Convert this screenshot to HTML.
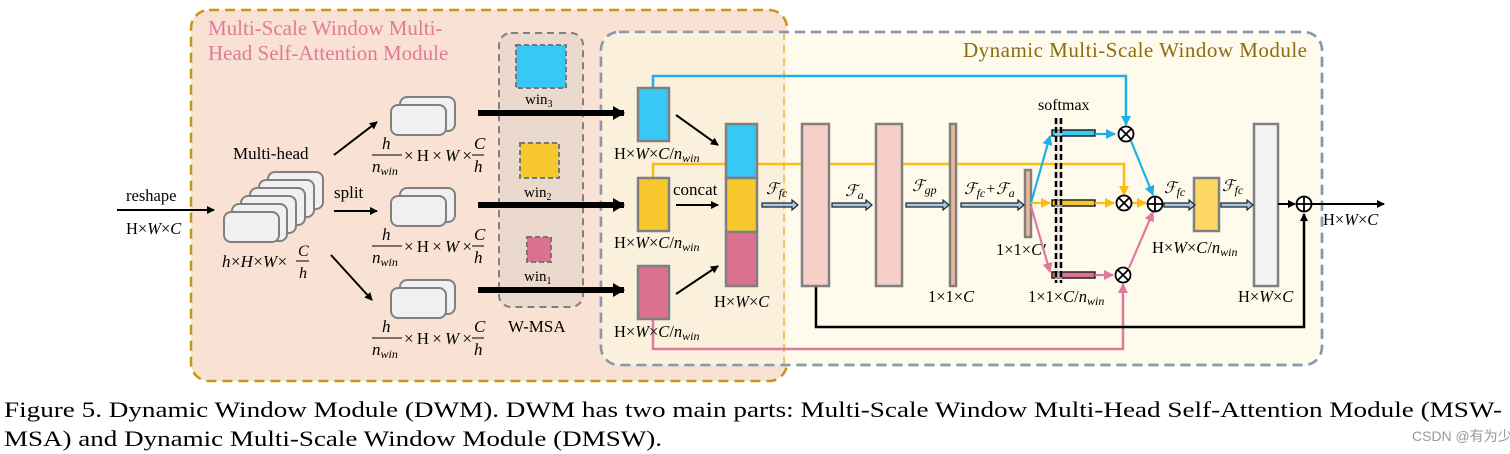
<!DOCTYPE html>
<html><head><style>
body{margin:0;background:#fff;}
svg{display:block;font-family:"Liberation Serif",serif;}
.it{font-style:italic}
</style></head><body>
<svg width="1510" height="454" viewBox="0 0 1510 454" xmlns="http://www.w3.org/2000/svg">
<defs>
<marker id="ab" markerWidth="8" markerHeight="8" refX="7" refY="4" orient="auto" markerUnits="userSpaceOnUse"><path d="M0,0 L8,4 L0,8 z" fill="#000"/></marker>
<marker id="abig" markerWidth="12" markerHeight="14" refX="11" refY="7" orient="auto" markerUnits="userSpaceOnUse"><path d="M0,0 L12,7 L0,14 z" fill="#000"/></marker>
<marker id="ablue" markerWidth="10" markerHeight="10" refX="9" refY="5" orient="auto" markerUnits="userSpaceOnUse"><path d="M0,0 L10,5 L0,10 z" fill="#1eaee8"/></marker>
<marker id="ayel" markerWidth="10" markerHeight="10" refX="9" refY="5" orient="auto" markerUnits="userSpaceOnUse"><path d="M0,0 L10,5 L0,10 z" fill="#fbbc12"/></marker>
<marker id="apink" markerWidth="10" markerHeight="10" refX="9" refY="5" orient="auto" markerUnits="userSpaceOnUse"><path d="M0,0 L10,5 L0,10 z" fill="#e07a9a"/></marker>
</defs>
<rect x="191" y="10" width="596" height="371" rx="18" fill="#f9e2d3" stroke="#c9960c" stroke-width="2.5" stroke-dasharray="10,6"/>
<rect x="601" y="32" width="721" height="333" rx="18" fill="#fefbec" stroke="#8898b2" stroke-width="2.5" stroke-dasharray="10,6"/>
<path d="M619,32 L786,32 L786,365 L619,365 Q601,365 601,347 L601,50 Q601,32 619,32z" fill="#fbf0dc"/>
<line x1="784" y1="32" x2="784" y2="365" stroke="#e8c870" stroke-width="2" stroke-dasharray="8,5"/>
<rect x="601" y="32" width="721" height="333" rx="18" fill="none" stroke="#8898b2" stroke-width="2.5" stroke-dasharray="10,6"/>
<text x="208" y="35" font-size="21" fill="#e07a9a">Multi-Scale Window Multi-</text>
<text x="208" y="60" font-size="21" fill="#e07a9a">Head Self-Attention Module</text>
<text x="963" y="57" font-size="21" fill="#8a6d10" textLength="344">Dynamic Multi-Scale Window Module</text>

<line x1="117" y1="210" x2="214" y2="210" stroke="#000" stroke-width="2" marker-end="url(#ab)"/>
<text x="126" y="201" font-size="16.5">reshape</text>
<text x="126" y="234" font-size="16.5">H×<tspan class="it">W</tspan>×<tspan class="it">C</tspan></text>

<g fill="#f0f0f0" stroke="#808080" stroke-width="2">
<rect x="268" y="172" width="55" height="37" rx="7"/>
<rect x="259" y="180" width="55" height="37" rx="7"/>
<rect x="250" y="188" width="55" height="37" rx="7"/>
<rect x="241" y="196" width="55" height="37" rx="7"/>
<rect x="232" y="204" width="55" height="37" rx="7"/>
<rect x="224" y="212" width="55" height="30" rx="7"/>
</g>
<text x="233" y="159" font-size="17">Multi-head</text>
<text x="222" y="267" font-size="17" class="it" textLength="66">h×H×W×</text>
<text x="298" y="256" font-size="16" class="it">C</text><line x1="296" y1="261" x2="309" y2="261" stroke="#000"/><text x="299" y="278" font-size="16" class="it">h</text>

<line x1="334" y1="155" x2="377" y2="122" stroke="#000" stroke-width="2" marker-end="url(#ab)"/>
<line x1="334" y1="211" x2="377" y2="211" stroke="#000" stroke-width="2" marker-end="url(#ab)"/>
<text x="334" y="198" font-size="17">split</text>
<line x1="331" y1="255" x2="372" y2="300" stroke="#000" stroke-width="2" marker-end="url(#ab)"/>

<g fill="#f0f0f0" stroke="#808080" stroke-width="2">
<rect x="400" y="97" width="55" height="34" rx="7"/><rect x="391" y="105" width="55" height="30" rx="7"/>
<rect x="400" y="188" width="55" height="34" rx="7"/><rect x="391" y="196" width="55" height="30" rx="7"/>
<rect x="400" y="280" width="55" height="34" rx="7"/><rect x="391" y="288" width="55" height="30" rx="7"/>
</g>
<g font-size="17">
<g transform="translate(372,0)"><text x="10" y="149" class="it">h</text><line x1="0" y1="155" x2="30" y2="155" stroke="#000"/><text x="0" y="172" class="it">n<tspan font-size="12" dy="3">win</tspan></text><text x="32" y="161" textLength="68">×H×<tspan class="it">W</tspan>×</text><text x="102" y="149" class="it">C</text><line x1="100" y1="155" x2="112" y2="155" stroke="#000"/><text x="102" y="172" class="it">h</text></g>
<g transform="translate(372,91)"><text x="10" y="149" class="it">h</text><line x1="0" y1="155" x2="30" y2="155" stroke="#000"/><text x="0" y="172" class="it">n<tspan font-size="12" dy="3">win</tspan></text><text x="32" y="161" textLength="68">×H×<tspan class="it">W</tspan>×</text><text x="102" y="149" class="it">C</text><line x1="100" y1="155" x2="112" y2="155" stroke="#000"/><text x="102" y="172" class="it">h</text></g>
<g transform="translate(372,183)"><text x="10" y="149" class="it">h</text><line x1="0" y1="155" x2="30" y2="155" stroke="#000"/><text x="0" y="172" class="it">n<tspan font-size="12" dy="3">win</tspan></text><text x="32" y="161" textLength="68">×H×<tspan class="it">W</tspan>×</text><text x="102" y="149" class="it">C</text><line x1="100" y1="155" x2="112" y2="155" stroke="#000"/><text x="102" y="172" class="it">h</text></g>
</g>

<rect x="499" y="33" width="84" height="274" rx="12" fill="#ead9cc" stroke="#808080" stroke-width="2" stroke-dasharray="7,5"/>
<rect x="516" y="45" width="50" height="43" fill="#38c8f5" stroke="#777" stroke-width="2" stroke-dasharray="5,3"/>
<rect x="520" y="143" width="39" height="35" fill="#f7c82e" stroke="#777" stroke-width="2" stroke-dasharray="5,3"/>
<rect x="527" y="237" width="24" height="25" fill="#dc7090" stroke="#777" stroke-width="2" stroke-dasharray="5,3"/>
<g font-size="15"><text x="525" y="104">win<tspan font-size="10" dy="3">3</tspan></text><text x="524" y="197">win<tspan font-size="10" dy="3">2</tspan></text><text x="524" y="281">win<tspan font-size="10" dy="3">1</tspan></text></g>
<text x="508" y="332" font-size="17">W-MSA</text>
<g stroke="#000" stroke-width="6">
<line x1="478" y1="113" x2="624" y2="113" marker-end="url(#abig)"/>
<line x1="478" y1="205" x2="624" y2="205" marker-end="url(#abig)"/>
<line x1="478" y1="290" x2="624" y2="290" marker-end="url(#abig)"/>
</g>

<g fill="none" stroke-width="2.5">
<polyline points="653,88 653,76 1126,76 1126,125" stroke="#1eaee8" marker-end="url(#ablue)"/>
<polyline points="653,178 653,164 1124,164 1124,195" stroke="#fbbc12" marker-end="url(#ayel)"/>
<polyline points="653,319 653,349 1123,349 1123,284" stroke="#e07a9a" marker-end="url(#apink)"/>
<polyline points="816,286 816,327 1304,327 1304,214" stroke="#000" marker-end="url(#ab)"/>
</g>

<g stroke="#808080" stroke-width="2.5">
<rect x="638" y="88" width="31" height="53" fill="#38c8f5"/>
<rect x="638" y="178" width="31" height="53" fill="#f7c82e"/>
<rect x="638" y="266" width="31" height="53" fill="#dc7090"/>
<rect x="726" y="124" width="31" height="54" fill="#38c8f5"/>
<rect x="726" y="178" width="31" height="54" fill="#f7c82e"/>
<rect x="726" y="232" width="31" height="54" fill="#dc7090"/>
</g>
<g font-size="16.5">
<text x="614" y="159">H×<tspan class="it">W</tspan>×<tspan class="it">C</tspan>/<tspan class="it">n</tspan><tspan class="it" font-size="12" dy="3">win</tspan></text>
<text x="614" y="248">H×<tspan class="it">W</tspan>×<tspan class="it">C</tspan>/<tspan class="it">n</tspan><tspan class="it" font-size="12" dy="3">win</tspan></text>
<text x="614" y="337">H×<tspan class="it">W</tspan>×<tspan class="it">C</tspan>/<tspan class="it">n</tspan><tspan class="it" font-size="12" dy="3">win</tspan></text>
<text x="714" y="307">H×<tspan class="it">W</tspan>×<tspan class="it">C</tspan></text>
</g>
<text x="673" y="195" font-size="17">concat</text>
<g stroke="#000" stroke-width="2">
<line x1="676" y1="115" x2="718" y2="145" marker-end="url(#ab)"/>
<line x1="676" y1="205" x2="718" y2="205" marker-end="url(#ab)"/>
<line x1="676" y1="294" x2="718" y2="266" marker-end="url(#ab)"/>
</g>

<g stroke="#808080" stroke-width="2.5">
<rect x="802" y="124" width="27" height="162" fill="#f6cfc8"/>
<rect x="876" y="124" width="26" height="162" fill="#f6cfc8"/>
<rect x="950" y="124" width="6" height="162" fill="#f0b898"/>
<rect x="1025" y="170" width="6" height="67" fill="#f0b898"/>
<rect x="1254" y="124" width="24" height="162" fill="#f4f4f4"/>
<rect x="1194" y="178" width="25" height="53" fill="#fdd865"/>
</g>
<g fill="#a8c8ea" stroke="#222" stroke-width="1.2">
<path d="M762,203 h30 v-3 l6,5 l-6,5 v-3 h-30z"/>
<path d="M832,203 h34 v-3 l6,5 l-6,5 v-3 h-34z"/>
<path d="M906,203 h37 v-3 l6,5 l-6,5 v-3 h-37z"/>
<path d="M961,203 h57 v-3 l6,5 l-6,5 v-3 h-57z"/>
<path d="M1164,203 h25 v-3 l6,5 l-6,5 v-3 h-25z"/>
<path d="M1221,203 h26 v-3 l6,5 l-6,5 v-3 h-26z"/>
</g>
<g font-size="16" class="it">
<text x="766" y="194">ℱ<tspan font-size="12" dy="3">fc</tspan></text>
<text x="845" y="196">ℱ<tspan font-size="12" dy="3">a</tspan></text>
<text x="912" y="191">ℱ<tspan font-size="12" dy="3">gp</tspan></text>
<text x="964" y="194">ℱ<tspan font-size="12" dy="3">fc</tspan><tspan dy="-3">+ℱ</tspan><tspan font-size="12" dy="3">a</tspan></text>
<text x="1164" y="193">ℱ<tspan font-size="12" dy="3">fc</tspan></text>
<text x="1222" y="191">ℱ<tspan font-size="12" dy="3">fc</tspan></text>
</g>
<g font-size="16.5">
<text x="928" y="302">1×1×<tspan class="it">C</tspan></text>
<text x="996" y="255">1×1×<tspan class="it">C′</tspan></text>
<text x="1028" y="302">1×1×<tspan class="it">C</tspan>/<tspan class="it">n</tspan><tspan class="it" font-size="12" dy="3">win</tspan></text>
<text x="1152" y="253">H×<tspan class="it">W</tspan>×<tspan class="it">C</tspan>/<tspan class="it">n</tspan><tspan class="it" font-size="12" dy="3">win</tspan></text>
<text x="1238" y="302">H×<tspan class="it">W</tspan>×<tspan class="it">C</tspan></text>
<text x="1323" y="225">H×<tspan class="it">W</tspan>×<tspan class="it">C</tspan></text>
</g>
<text x="1038" y="110" font-size="16">softmax</text>

<line x1="1031" y1="203" x2="1050" y2="136" stroke="#1eaee8" stroke-width="2.2" marker-end="url(#ablue)"/>
<line x1="1031" y1="203" x2="1050" y2="203" stroke="#fbbc12" stroke-width="2.2" marker-end="url(#ayel)"/>
<line x1="1031" y1="206" x2="1050" y2="272" stroke="#e07a9a" stroke-width="2.2" marker-end="url(#apink)"/>
<g stroke="#222" stroke-width="1.5">
<rect x="1052" y="130" width="43" height="6" fill="#38c8f5"/>
<rect x="1052" y="200" width="43" height="6" fill="#f7c82e"/>
<rect x="1052" y="272" width="43" height="6" fill="#dc7090"/>
</g>
<rect x="1055" y="118" width="7" height="165" fill="#ddd" opacity="0.5"/>
<line x1="1056" y1="118" x2="1056" y2="283" stroke="#000" stroke-width="2.5" stroke-dasharray="6,3"/>
<line x1="1061" y1="118" x2="1061" y2="283" stroke="#000" stroke-width="2.5" stroke-dasharray="6,3"/>
<g stroke-width="2.2">
<line x1="1095" y1="134" x2="1115" y2="134" stroke="#1eaee8" marker-end="url(#ablue)"/>
<line x1="1095" y1="203" x2="1114" y2="203" stroke="#fbbc12" marker-end="url(#ayel)"/>
<line x1="1095" y1="275" x2="1113" y2="275" stroke="#e07a9a" marker-end="url(#apink)"/>
<line x1="1131" y1="141" x2="1153" y2="195" stroke="#1eaee8" marker-end="url(#ablue)"/>
<line x1="1131" y1="203" x2="1146" y2="203" stroke="#fbbc12" marker-end="url(#ayel)"/>
<line x1="1129" y1="268" x2="1153" y2="212" stroke="#e07a9a" marker-end="url(#apink)"/>
</g>
<g fill="#fff" stroke="#000" stroke-width="1.8">
<circle cx="1126" cy="134" r="7.5"/><path d="M1120.7,128.7 l10.6,10.6 M1131.3,128.7 l-10.6,10.6"/>
<circle cx="1124" cy="203" r="7.5"/><path d="M1118.7,197.7 l10.6,10.6 M1129.3,197.7 l-10.6,10.6"/>
<circle cx="1123" cy="275" r="7.5"/><path d="M1117.7,269.7 l10.6,10.6 M1128.3,269.7 l-10.6,10.6"/>
<circle cx="1155" cy="204" r="7.5"/><path d="M1147.5,204 h15 M1155,196.5 v15"/>
<circle cx="1304" cy="204" r="7.5"/><path d="M1296.5,204 h15 M1304,196.5 v15"/>
</g>
<line x1="1278" y1="204" x2="1295" y2="204" stroke="#000" stroke-width="2" marker-end="url(#ab)"/>
<line x1="1312" y1="204" x2="1384" y2="204" stroke="#000" stroke-width="2" marker-end="url(#ab)"/>

<text x="4" y="417" font-size="22.5" textLength="1498" lengthAdjust="spacingAndGlyphs">Figure 5. Dynamic Window Module (DWM). DWM has two main parts: Multi-Scale Window Multi-Head Self-Attention Module (MSW-</text>
<text x="4" y="446" font-size="22.5" textLength="658" lengthAdjust="spacingAndGlyphs">MSA) and Dynamic Multi-Scale Window Module (DMSW).</text>
<text x="1412" y="441" font-size="14" fill="#999" font-family="Liberation Sans, Noto Sans CJK SC, sans-serif">CSDN @有为少年</text>
</svg>
</body></html>
